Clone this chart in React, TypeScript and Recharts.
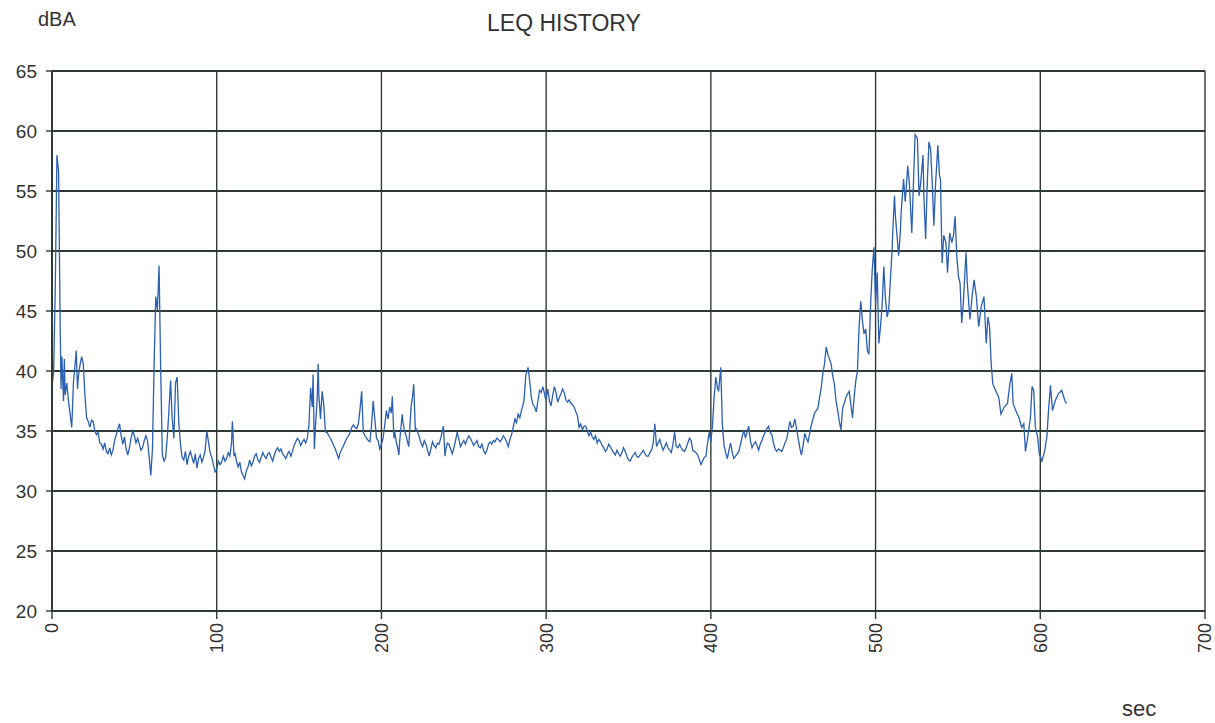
import { LineChart, Line, XAxis, YAxis, CartesianGrid } from "recharts";

// [seconds, dBA]
const leqReadings: [number, number][] = [
  [0, 38.7], [1, 40], [2, 47], [3, 58.0], [4, 56.6], [4.5, 50], [5, 43.4], [5.5, 38.5], [6, 41.2], [7, 37.5],
  [7.5, 41.0], [8, 38], [9, 39], [10, 37.5], [11, 36.4], [12, 35.3], [13, 39], [14, 40.5], [14.7, 41.7], [15.5, 38.5],
  [16, 39.5], [17, 40.5], [18, 41.2], [19, 40.6], [20, 38], [21, 36.1], [22, 35.8], [23, 35.3], [24, 35.9], [25, 35.8],
  [26, 35.0], [27, 34.7], [28, 34.9], [29, 34.0], [30, 33.9], [31, 33.5], [32, 34.0], [33, 33.3], [34, 33.1], [35, 33.6],
  [36, 33], [37, 33.4], [38, 34.2], [39, 34.7], [40, 35.2], [41, 35.6], [42, 34.6], [43, 33.9], [44, 34.5], [45, 33.5],
  [46, 33], [47, 33.6], [48, 34.4], [49, 35], [50, 34.6], [51, 34.0], [52, 34.4], [53, 33.9], [54, 33.4], [55, 33.6],
  [56, 34.2], [57, 34.6], [58, 34.2], [59, 32.8], [60, 31.3], [61, 33.5], [62, 40.6], [63, 46.2], [64, 45.1], [65, 48.8],
  [66, 40], [67, 33], [68, 32.5], [69, 32.8], [70, 34.5], [71, 36.7], [72, 39.2], [73, 36], [74, 34.4], [75, 39],
  [76, 39.5], [77, 35.6], [78, 33.9], [79, 32.8], [80, 32.6], [81, 33.3], [82, 32.2], [83, 32.9], [84, 33.3], [85, 32.8],
  [86, 32.3], [87, 33.1], [88, 31.9], [89, 32.7], [90, 33.0], [91, 32.4], [92, 32.8], [93, 33.4], [94, 35], [95, 34.1],
  [96, 33.2], [97, 32.8], [98, 32.2], [99, 31.6],
  [100, 31.8], [101, 32.5], [102, 32.2], [103, 32.4], [104, 32.9], [105, 32.5], [106, 32.7], [107, 33.2], [108, 32.9], [109, 34],
  [109.5, 35.8], [110.5, 32.9], [111, 33.2], [112, 32.5], [113, 32], [114, 32.4], [115, 31.6], [116, 31.3], [117, 31], [118, 31.7],
  [119, 32], [120, 32.6], [121, 32.1], [122, 32.4], [123, 32.9], [124, 33.1], [125, 32.6], [126, 32.4], [127, 32.8], [128, 33.2],
  [129, 32.9], [130, 32.7], [131, 33.1], [132, 33.2], [133, 32.8], [134, 32.5], [135, 33], [136, 33.4], [137, 33.6], [138, 33.3],
  [139, 33.5], [140, 33.1], [141, 32.9], [142, 32.7], [143, 33.1], [144, 33.3], [145, 32.9], [146, 33.3], [147, 33.8], [148, 34.1],
  [149, 34.4], [150, 34.2], [151, 33.8], [152, 34.1], [153, 34.3], [154, 34.0], [155, 34.4], [156, 35.5], [157, 38.6], [158, 37],
  [158.5, 39.7], [159.3, 33.5], [160, 35.5], [161, 37.7], [161.6, 40.6], [162, 38], [163, 36], [164, 38.3], [165, 37.2], [166, 34.9],
  [167, 34.9], [168, 34.6], [169, 34.4], [170, 34.1], [171, 33.8], [172, 33.5], [173, 33.1], [174, 32.7], [175, 33.2], [176, 33.5],
  [177, 33.8], [178, 34.1], [179, 34.4], [180, 34.6], [181, 34.9], [182, 35.3], [183, 35.5], [184, 35.3], [185, 35.2], [186, 35.6],
  [187, 36.8], [188, 38.3], [189, 34.9], [190, 34.6], [191, 34.4], [192, 34.2], [193, 34.1], [194, 35.5], [195, 37.5], [196, 36],
  [197, 34.4], [198, 34.2], [199, 33.5],
  [200, 33.9], [201, 34.4], [202, 35.5], [203, 36.7], [204, 36], [205, 37], [206, 36.5], [206.6, 37.9], [207.6, 34.4], [208, 35],
  [209, 34.1], [210, 33.5], [210.6, 33], [211, 34], [212, 35.5], [212.6, 36.4], [213, 35.8], [214, 35], [215, 34.6], [216, 34],
  [216.6, 33.7], [217.6, 36.1], [218, 37], [219, 38], [219.6, 38.9], [220.6, 35], [221, 35.2], [222, 34.9], [223, 34.5], [224, 34],
  [225, 33.7], [226, 34.2], [227, 33.9], [228, 33.4], [229, 32.9], [230, 33.5], [231, 34.1], [232, 33.8], [233, 33.6], [234, 34],
  [235, 33.9], [236, 34.4], [237, 35], [237.6, 35.4], [238.6, 32.9], [239, 33.4], [240, 34], [241, 33.9], [242, 33.5], [243, 33.1],
  [244, 33.6], [245, 34.2], [246, 34.9], [247, 34.3], [248, 33.7], [249, 34], [250, 34.2], [251, 33.9], [252, 34.3], [253, 34.6],
  [254, 34.4], [255, 34.1], [256, 33.8], [257, 34], [258, 34.2], [259, 33.7], [260, 33.6], [261, 33.9], [262, 33.4], [263, 33.1],
  [264, 33.4], [265, 33.9], [266, 34.1], [267, 33.9], [268, 34.2], [269, 34.1], [270, 34.4], [271, 34.3], [272, 34.1], [273, 34.3],
  [274, 34.6], [275, 34.4], [276, 34.1], [277, 33.7], [278, 34.3], [279, 34.7], [280, 35.3], [281, 36], [282, 35.7], [283, 36.4],
  [284, 36.1], [285, 36.7], [286, 37.2], [286.6, 37.6], [287.6, 39.6], [289, 40.3], [290, 39.2], [290.6, 38.4], [291, 37.8], [292, 37.2],
  [293, 37], [294, 36.6], [295, 37.5], [296, 38.4], [297, 38.2], [298, 38.7], [299, 38.1], [299.6, 37.7],
  [300, 37.7], [301, 38.5], [302, 37.5], [303, 37.1], [304, 38], [305, 38.7], [306, 38.2], [307, 37.4], [308, 37.8], [309, 38.1],
  [310, 38.5], [311, 38.2], [312, 37.6], [313, 37.4], [314, 37.6], [315, 37.3], [316, 37.2], [317, 37], [318, 36.6], [319, 36.3],
  [320, 35.3], [321, 35.6], [322, 35.1], [323, 35.4], [324, 35.4], [325, 35.0], [326, 34.6], [327, 34.9], [328, 34.5], [329, 34.3],
  [330, 34.6], [331, 34], [332, 34.3], [333, 34.1], [334, 33.8], [335, 33.6], [336, 33.3], [337, 33.5], [338, 33.9], [339, 33.7],
  [340, 33.4], [341, 33.2], [342, 33], [343, 33.4], [344, 33.1], [345, 32.9], [346, 33.2], [347, 33.6], [348, 33.3], [349, 32.9],
  [350, 32.6], [351, 32.5], [352, 32.8], [353, 33], [354, 33.2], [355, 32.9], [356, 32.8], [357, 33], [358, 33.2], [359, 33.4],
  [360, 33.1], [361, 32.9], [362, 32.9], [363, 33.2], [364, 33.4], [365, 34], [366, 35.6], [367, 33.7], [368, 34], [369, 34.3],
  [370, 33.8], [371, 33.4], [372, 33.7], [373, 34], [374, 33.6], [375, 33.4], [376, 33.2], [377, 33.9], [378, 34.9], [379, 33.7],
  [380, 33.6], [381, 33.9], [382, 33.6], [383, 33.4], [384, 33.3], [385, 33.6], [386, 34], [387, 34.4], [388, 34.2], [389, 33.4],
  [390, 33.3], [391, 33.2], [392, 33], [393, 32.6], [394, 32.2], [395, 32.5], [396, 32.8], [397, 32.9], [398, 34], [399, 34.9],
  [400, 34.1], [401, 35.5], [402, 37.8], [403, 39.5], [404, 38.6], [404.7, 38.3], [406, 40.3], [407, 35.5], [408, 33.8], [409, 33.2],
  [410, 32.7], [411, 33.4], [412, 34], [413, 33.2], [414, 32.7], [415, 32.9], [416, 33.1], [417, 33.3], [418, 33.9], [419, 34.5],
  [420, 35.1], [421, 34.4], [422, 34.9], [423, 35.4], [424, 34.2], [425, 33.6], [426, 33.9], [427, 34.1], [428, 33.8], [429, 33.4],
  [430, 33.9], [431, 34.2], [432, 34.6], [433, 34.9], [434, 35.2], [435, 35.4], [436, 34.9], [437, 34.7], [438, 34], [439, 33.5],
  [440, 33.3], [441, 33.5], [442, 33.4], [443, 33.3], [444, 33.6], [445, 34], [446, 34.3], [447, 35], [448, 35.8], [449, 35.3],
  [450, 35.4], [451, 36], [452, 35.2], [453, 34.4], [454, 33.6], [455, 33], [456, 33.8], [457, 34.8], [458, 34.4], [459, 34.1],
  [460, 34.8], [461, 35.5], [462, 36], [463, 36.5], [464, 36.7], [465, 36.9], [466, 37.8], [467, 38.6], [468, 39.8], [469, 40.6],
  [470, 42], [471, 41.4], [472, 41], [473, 40.6], [474, 39.6], [475, 38.9], [476, 37.5], [477, 36.7], [478, 35.8], [479, 35.1],
  [480, 36.9], [481, 37.3], [482, 37.8], [483, 38.1], [484, 38.3], [485, 37.2], [486, 36.1], [487, 37.8], [488, 39.2], [489, 40],
  [490, 43.7], [491, 45.8], [492, 44.2], [493, 43.1], [494, 43.5], [495, 41.7], [496, 41.4], [497, 45.6], [498, 48.5], [499, 50.3],
  [500, 45.6], [501, 48.2], [502, 42.3], [503, 43.7], [504, 45.5], [505, 48.7], [506, 46], [507, 44.5], [508, 45.1], [509, 47.6],
  [510, 50], [510.5, 51.8], [511.5, 54.6], [512, 53], [513, 51.3], [514, 49.6], [515, 51.5], [515.5, 53.2], [517, 56], [518, 54.1],
  [519, 56], [519.5, 57.1], [520.5, 55.7], [521.5, 52.9], [522, 51.5], [523, 55.7], [524, 59.7], [525.4, 59.4], [526.4, 54.6], [527.4, 55.7],
  [528.8, 58], [529.4, 54.3], [530.4, 51], [531.4, 55.7], [532.4, 59.1], [533.4, 58.5], [534.4, 55.7], [535.4, 52.1], [536.4, 55.5], [537.8, 58.8],
  [538.8, 56.3], [539.4, 56], [540.4, 49], [541.4, 51.3], [542.7, 50.7], [543.7, 48.2], [545, 51.5], [546.3, 50.7], [547.3, 51.3], [548.3, 52.9],
  [549.3, 49.6], [550.3, 47.9], [551.3, 47.3], [552.3, 44], [553.3, 45.7], [554.9, 49.9], [555.7, 47.3], [557.3, 44.3], [558.6, 46.2], [559.8, 47.6],
  [561.2, 46.2], [562.6, 43.7], [564.2, 45.4], [565.8, 46.2], [567.2, 42.3], [568.2, 44.5], [569.2, 43.7], [570.2, 40.6], [571.2, 38.9], [572.8, 38.4],
  [574.8, 37.8], [576.1, 36.4], [578.1, 37], [580.1, 37.3], [581.5, 38.9], [582.7, 39.8], [583.5, 37.3], [585.1, 36.7], [587.1, 36.1], [588.7, 35.3],
  [590, 35.6], [591, 33.3], [592.4, 34.5], [594, 36.1], [595, 38.7], [596, 38.4], [597, 35.3], [598.4, 34.5], [599.4, 33.1], [601, 32.5],
  [602.6, 33.3], [604, 34.5], [605, 36.7], [606.2, 38.8], [607.4, 36.7], [609, 37.5], [611, 38.1], [613, 38.4], [615, 37.5], [616, 37.3],
];

const secTicks = [0, 100, 200, 300, 400, 500, 600, 700];
const dbaTicks = [20, 25, 30, 35, 40, 45, 50, 55, 60, 65];

const data = leqReadings.map(([sec, leq]) => ({ sec, leq }));

const INK = "#2f3a34";
const FONT = "'Liberation Sans', Arial, sans-serif";

const RotatedTick = (props: any) => {
  const { x, y, payload } = props;
  return (
    <g transform={`translate(${x},${y + 2}) rotate(-90)`}>
      <text textAnchor="end" dy="0.36em" fontSize={18} fill="#333" fontFamily={FONT}>
        {payload.value}
      </text>
    </g>
  );
};

const App = () => {
  return (
    <div style={{ position: "absolute", left: 0, top: 0, width: 1215, height: 723, background: "#fff" }}>
      <LineChart
        width={1215}
        height={723}
        data={data}
        margin={{ top: 71, right: 10, left: 2, bottom: 52 }}
      >
        <CartesianGrid stroke={INK} strokeWidth={2} vertical={false} />
        <CartesianGrid stroke={INK} strokeWidth={1.4} horizontal={false} />
        <XAxis
          dataKey="sec"
          type="number"
          domain={[0, 700]}
          ticks={secTicks}
          height={60}
          interval={0}
          axisLine={{ stroke: INK, strokeWidth: 2 }}
          tickLine={{ stroke: INK, strokeWidth: 1.4 }}
          tickSize={8}
          tick={<RotatedTick />}
        />
        <YAxis
          type="number"
          domain={[20, 65]}
          ticks={dbaTicks}
          width={50}
          interval={0}
          axisLine={{ stroke: INK, strokeWidth: 2 }}
          tickLine={{ stroke: INK, strokeWidth: 1.4 }}
          tickSize={6}
          tickMargin={9}
          tick={{ fontSize: 19, fill: "#333", fontFamily: FONT }}
        />
        <Line
          type="linear"
          dataKey="leq"
          stroke="#2b5fb0"
          strokeWidth={1.3}
          dot={false}
          isAnimationActive={false}
        />
      </LineChart>
      <div style={{ position: "absolute", left: 38, top: 9, fontSize: 20, lineHeight: 1, fontFamily: FONT, color: "#333" }}>
        dBA
      </div>
      <div style={{ position: "absolute", left: 487, top: 12, fontSize: 23, lineHeight: 1, fontFamily: FONT, color: "#333" }}>
        LEQ HISTORY
      </div>
      <div style={{ position: "absolute", left: 1122, top: 698, fontSize: 22, lineHeight: 1, fontFamily: FONT, color: "#333" }}>
        sec
      </div>
    </div>
  );
};

export default App;
